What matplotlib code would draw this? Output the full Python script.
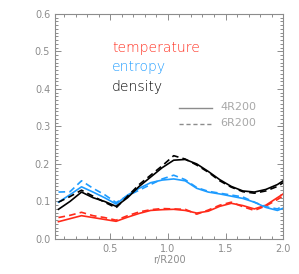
import matplotlib
matplotlib.use("Agg")
import matplotlib.pyplot as plt
from matplotlib.ticker import MultipleLocator

# radius in units of R200
r = [0.05, 0.15, 0.25, 0.35, 0.45, 0.55, 0.65, 0.75, 0.85, 0.95, 1.05,
     1.15, 1.25, 1.35, 1.45, 1.55, 1.65, 1.75, 1.85, 1.95, 2.0]

# 4R200 (solid) and 6R200 (dashed)
temp_4 = [0.046, 0.054, 0.062, 0.057, 0.052, 0.047, 0.058, 0.068, 0.076, 0.078, 0.079,
          0.076, 0.069, 0.074, 0.087, 0.095, 0.089, 0.080, 0.090, 0.110, 0.120]
temp_6 = [0.057, 0.063, 0.071, 0.062, 0.057, 0.050, 0.062, 0.072, 0.078, 0.081, 0.080,
          0.079, 0.066, 0.077, 0.090, 0.098, 0.086, 0.076, 0.088, 0.105, 0.115]
entr_4 = [0.098, 0.118, 0.139, 0.125, 0.110, 0.093, 0.117, 0.135, 0.150, 0.157, 0.160,
          0.155, 0.135, 0.125, 0.120, 0.114, 0.108, 0.098, 0.084, 0.076, 0.082]
entr_6 = [0.125, 0.126, 0.155, 0.135, 0.118, 0.097, 0.115, 0.130, 0.145, 0.160, 0.170,
          0.158, 0.137, 0.127, 0.122, 0.117, 0.112, 0.098, 0.086, 0.080, 0.088]
dens_4 = [0.079, 0.100, 0.125, 0.110, 0.100, 0.087, 0.110, 0.140, 0.165, 0.190, 0.210,
          0.212, 0.200, 0.180, 0.158, 0.140, 0.128, 0.125, 0.132, 0.145, 0.155]
dens_6 = [0.098, 0.113, 0.130, 0.114, 0.098, 0.083, 0.114, 0.145, 0.170, 0.195, 0.222,
          0.213, 0.197, 0.178, 0.155, 0.138, 0.126, 0.122, 0.128, 0.140, 0.150]

RED = "#ff2a1a"
BLUE = "#1e9cff"
GREY = "#8c8c8c"

fig = plt.figure(figsize=(2.99, 2.74), dpi=100)
ax = fig.add_axes([0.184, 0.128, 0.763, 0.821])

for y4, y6, c in [(temp_4, temp_6, RED), (entr_4, entr_6, BLUE), (dens_4, dens_6, "black")]:
    ax.plot(r, y4, color=c, lw=1.2)
    ax.plot(r, y6, color=c, lw=1.2, ls=(0, (4, 2.5)))

ax.set_xlim(0.02, 2.0)
ax.set_ylim(0.0, 0.6)
ax.xaxis.set_major_locator(MultipleLocator(0.5))
ax.xaxis.set_minor_locator(MultipleLocator(0.1))
ax.yaxis.set_major_locator(MultipleLocator(0.1))
ax.yaxis.set_minor_locator(MultipleLocator(0.01))
ax.tick_params(which="both", direction="in", top=True, right=True, colors=GREY,
               labelsize=7, width=0.7)
ax.tick_params(which="major", length=4)
ax.tick_params(which="minor", length=2)
ax.xaxis.set_major_formatter(plt.FuncFormatter(lambda v, p: "" if v < 0.4 else f"{v:.1f}"))
ax.yaxis.set_major_formatter(plt.FuncFormatter(lambda v, p: f"{v:.1f}"))
for s in ax.spines.values():
    s.set_color(GREY)
    s.set_linewidth(0.8)
ax.set_xlabel("r/R200", color=GREY, fontsize=7, labelpad=1)

ax.text(0.25, 0.85, "temperature", color=RED, fontsize=10, fontweight="light",
        transform=ax.transAxes, va="center")
ax.text(0.25, 0.763, "entropy", color=BLUE, fontsize=10, fontweight="light",
        transform=ax.transAxes, va="center")
ax.text(0.25, 0.676, "density", color="black", fontsize=10, fontweight="light",
        transform=ax.transAxes, va="center")

ax.plot([0.545, 0.69], [0.58, 0.58], transform=ax.transAxes, color=GREY, lw=1)
ax.plot([0.545, 0.69], [0.51, 0.51], transform=ax.transAxes, color=GREY, lw=1, ls=(0, (3, 2)))
ax.text(0.725, 0.585, "4R200", color="#a8a8a8", fontsize=8, transform=ax.transAxes, va="center")
ax.text(0.725, 0.515, "6R200", color="#a8a8a8", fontsize=8, transform=ax.transAxes, va="center")

fig.savefig("out.png", dpi=100)
